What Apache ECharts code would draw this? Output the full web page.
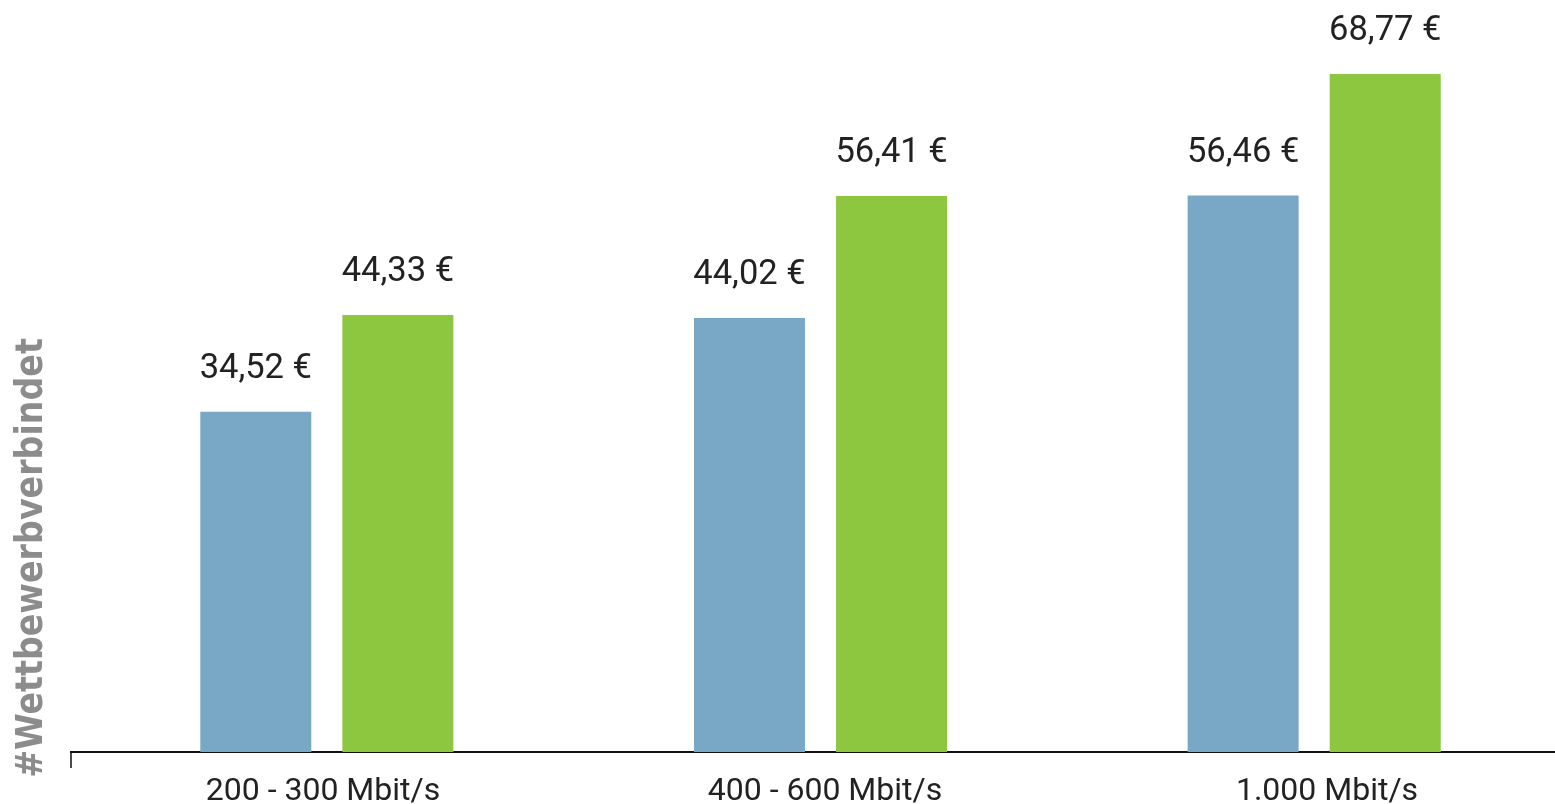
<!DOCTYPE html>
<html>
<head>
<meta charset="utf-8">
<script src="https://cdn.jsdelivr.net/npm/echarts@6/dist/echarts.min.js"></script>
<style>
html,body{margin:0;padding:0;background:#fff;}
#chart{width:1555px;height:804px;}
</style>
</head>
<body>
<div id="chart"></div>
<script>
const categories = ['200 - 300 Mbit/s', '400 - 600 Mbit/s', '1.000 Mbit/s'];
const seriesBlue = [34.52, 44.02, 56.46];
const seriesGreen = [44.33, 56.41, 68.77];

const chart = echarts.init(document.getElementById('chart'), null, {renderer: 'canvas'});
const fmt = p => p.value.toFixed(2).replace('.', ',') + ' €';
const labelStyle = {
  show: true, position: 'top', distance: 25,
  fontFamily: 'Roboto', fontSize: 34.5, color: '#222',
  formatter: fmt
};
chart.setOption({
  animation: false,
  grid: [
    {left: 80, right: -6, top: 62, bottom: 52, containLabel: false, outerBoundsMode: 'none'},
    {left: 72, right: -23, top: 62, bottom: 52, containLabel: false, outerBoundsMode: 'none'}
  ],
  xAxis: [
    {
      type: 'category', data: categories, gridIndex: 0,
      axisLine: {lineStyle: {color: '#111', width: 2}},
      axisTick: {show: false},
      axisLabel: {show: false}
    },
    {
      type: 'category', data: categories, gridIndex: 1,
      axisLine: {show: false},
      axisTick: {show: false},
      axisLabel: {fontFamily: 'Roboto', fontSize: 32, color: '#222', margin: 24}
    }
  ],
  yAxis: [
    {type: 'value', min: 0, max: 70, show: false, splitLine: {show: false}, gridIndex: 0},
    {type: 'value', min: 0, max: 70, show: false, splitLine: {show: false}, gridIndex: 1}
  ],
  series: [
    {type: 'bar', data: seriesBlue, barWidth: 111, barGap: '28%',
     itemStyle: {color: '#79a8c7'}, label: labelStyle},
    {type: 'bar', data: seriesGreen, barWidth: 111, barGap: '28%',
     itemStyle: {color: '#8dc63f'}, label: labelStyle}
  ],
  graphic: [
    {type: 'line', shape: {x1: 70, y1: 752, x2: 82, y2: 752}, style: {stroke: '#111', lineWidth: 2}},
    {type: 'line', shape: {x1: 71, y1: 752, x2: 71, y2: 768}, style: {stroke: '#111', lineWidth: 1.5}},
    {type: 'text', x: 32, y: 558, rotation: Math.PI / 2,
     style: {text: '#Wettbewerbverbindet', fontFamily: 'DejaVu Sans Condensed', fontWeight: 'bold',
       fontSize: 37, fill: '#8c8c8c', align: 'center', verticalAlign: 'middle'}}
  ]
});
</script>
</body>
</html>
